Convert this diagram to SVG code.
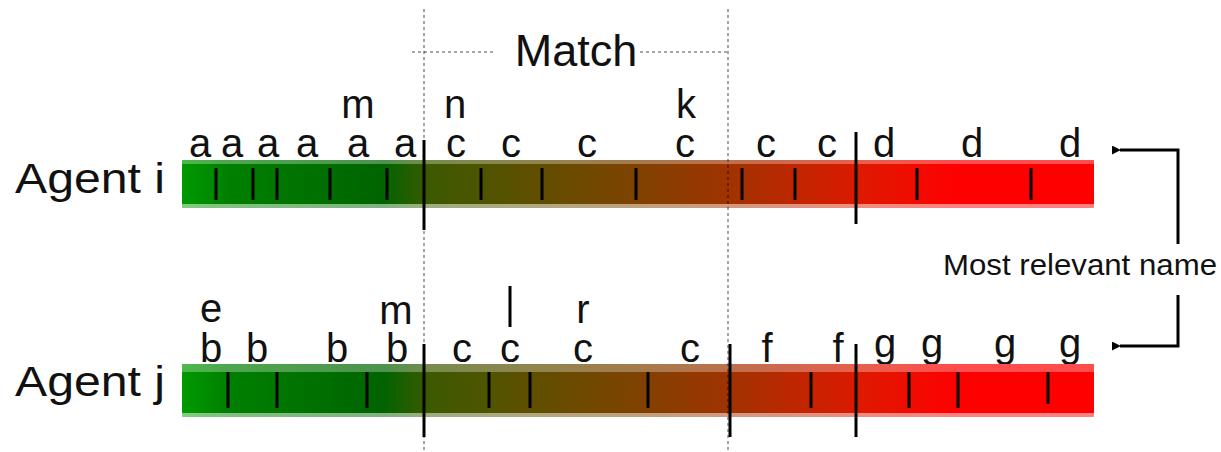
<svg xmlns="http://www.w3.org/2000/svg" width="1221" height="452" viewBox="0 0 1221 452">
  <defs>
    <linearGradient id="heat" gradientUnits="userSpaceOnUse" x1="182" y1="0" x2="1094" y2="0">
      <stop offset="0" stop-color="#009a00"/>
      <stop offset="0.05" stop-color="#008000"/>
      <stop offset="0.22" stop-color="#006400"/>
      <stop offset="0.27" stop-color="#3c5a00"/>
      <stop offset="0.38" stop-color="#5e5000"/>
      <stop offset="0.5" stop-color="#7f4200"/>
      <stop offset="0.6" stop-color="#a03300"/>
      <stop offset="0.75" stop-color="#e01800"/>
      <stop offset="0.85" stop-color="#ff0000"/>
      <stop offset="1" stop-color="#ff0000"/>
    </linearGradient>
    <marker id="arrow" viewBox="0 0 10 10" refX="1" refY="5" markerWidth="3" markerHeight="3" orient="auto-start-reverse">
      <path d="M0,5 L10,0 L10,10 Z" fill="#000"/>
    </marker>
  </defs>
  <style>
    text { font-family: "Liberation Sans", Arial, sans-serif; fill: #111; }
    .lbl { font-size: 40px; text-anchor: middle; }
    .agent { font-size: 43px; }
    .tick { stroke: #000; stroke-width: 3; }
    .sep { stroke: #000; stroke-width: 3; }
    .dot { stroke: #000; stroke-opacity: 0.35; stroke-width: 2; stroke-dasharray: 3 3; fill: none; }
    .hi { fill: #fff; opacity: 0.3; }
    .lo { fill: #fff; opacity: 0.5; }
    .conn { stroke: #000; stroke-width: 3; fill: none; }
  </style>

  <!-- Agent i -->
  <g id="agent-i">
    <text class="agent" x="15" y="193" textLength="150" lengthAdjust="spacingAndGlyphs">Agent i</text>
    <rect x="182" y="160" width="912" height="48" fill="url(#heat)"/>
    <rect class="hi" x="182" y="160" width="912" height="4"/>
    <rect class="lo" x="182" y="204" width="912" height="4"/>
    <g class="tick">
      <line x1="216" y1="168" x2="216" y2="200"/>
      <line x1="253" y1="168" x2="253" y2="200"/>
      <line x1="277" y1="168" x2="277" y2="200"/>
      <line x1="330" y1="168" x2="330" y2="200"/>
      <line x1="387" y1="168" x2="387" y2="200"/>
      <line x1="481" y1="168" x2="481" y2="200"/>
      <line x1="542" y1="168" x2="542" y2="200"/>
      <line x1="636" y1="168" x2="636" y2="200"/>
      <line x1="742" y1="168" x2="742" y2="200"/>
      <line x1="795" y1="168" x2="795" y2="200"/>
      <line x1="917" y1="168" x2="917" y2="200"/>
      <line x1="1031" y1="168" x2="1031" y2="200"/>
    </g>
    <line class="sep" x1="424" y1="140" x2="424" y2="230"/>
    <line class="sep" x1="856" y1="132" x2="856" y2="224"/>
    <g class="lbl-row">
      <text class="lbl" x="200" y="157">a</text>
      <text class="lbl" x="232" y="157">a</text>
      <text class="lbl" x="268" y="157">a</text>
      <text class="lbl" x="307" y="157">a</text>
      <text class="lbl" x="358" y="157">a</text>
      <text class="lbl" x="405" y="157">a</text>
      <text class="lbl" x="456" y="157">c</text>
      <text class="lbl" x="511" y="157">c</text>
      <text class="lbl" x="587" y="157">c</text>
      <text class="lbl" x="685" y="157">c</text>
      <text class="lbl" x="766" y="157">c</text>
      <text class="lbl" x="827" y="157">c</text>
      <text class="lbl" x="884" y="157">d</text>
      <text class="lbl" x="972" y="157">d</text>
      <text class="lbl" x="1070" y="157">d</text>
      <text class="lbl" x="358" y="118">m</text>
      <text class="lbl" x="455" y="118">n</text>
      <text class="lbl" x="686" y="118">k</text>
    </g>
  </g>

  <!-- Agent j -->
  <g id="agent-j">
    <text class="agent" x="15" y="396" textLength="150" lengthAdjust="spacingAndGlyphs">Agent j</text>
    <g class="lbl-row">
      <text class="lbl" x="211" y="362">b</text>
      <text class="lbl" x="257" y="362">b</text>
      <text class="lbl" x="337" y="362">b</text>
      <text class="lbl" x="397" y="362">b</text>
      <text class="lbl" x="462" y="362">c</text>
      <text class="lbl" x="510" y="362">c</text>
      <text class="lbl" x="583" y="362">c</text>
      <text class="lbl" x="690" y="362">c</text>
      <text class="lbl" x="767" y="362">f</text>
      <text class="lbl" x="838" y="362">f</text>
      <text class="lbl" x="885" y="357">g</text>
      <text class="lbl" x="932" y="357">g</text>
      <text class="lbl" x="1005" y="357">g</text>
      <text class="lbl" x="1070" y="357">g</text>
      <text class="lbl" x="211" y="322">e</text>
      <text class="lbl" x="396" y="324">m</text>
      <text class="lbl" x="583" y="323">r</text>
    </g>
    <rect x="182" y="364" width="912" height="53" fill="url(#heat)"/>
    <rect class="hi" x="182" y="364" width="912" height="8"/>
    <rect class="lo" x="182" y="413" width="912" height="4"/>
    <g class="tick">
      <line x1="228" y1="372" x2="228" y2="408"/>
      <line x1="277" y1="372" x2="277" y2="408"/>
      <line x1="367" y1="372" x2="367" y2="408"/>
      <line x1="489" y1="372" x2="489" y2="408"/>
      <line x1="530" y1="372" x2="530" y2="408"/>
      <line x1="648" y1="372" x2="648" y2="408"/>
      <line x1="811" y1="372" x2="811" y2="408"/>
      <line x1="909" y1="372" x2="909" y2="408"/>
      <line x1="958" y1="372" x2="958" y2="408"/>
      <line x1="1048" y1="372" x2="1048" y2="404"/>
      <line x1="510" y1="286" x2="510" y2="327"/>
    </g>
    <line class="sep" x1="424" y1="344" x2="424" y2="437"/>
    <line class="sep" x1="730" y1="344" x2="730" y2="437"/>
    <line class="sep" x1="856" y1="344" x2="856" y2="437"/>
  </g>

  <!-- Match window -->
  <g id="match">
    <line class="dot" x1="424" y1="9" x2="424" y2="452"/>
    <line class="dot" x1="728" y1="9" x2="728" y2="452"/>
    <line class="dot" x1="412" y1="52" x2="496" y2="52"/>
    <line class="dot" x1="640" y1="52" x2="727" y2="52"/>
    <text x="576" y="66" font-size="45" text-anchor="middle">Match</text>
  </g>

  <!-- Most relevant name callout -->
  <g id="relevance">
    <text x="1080" y="275" font-size="30" text-anchor="middle" textLength="274" lengthAdjust="spacingAndGlyphs" fill="#222">Most relevant name</text>
  </g>

  <g id="connectors">
    <polyline class="conn" points="1178,244 1178,150 1120,150" marker-end="url(#arrow)"/>
    <polyline class="conn" points="1178,295 1178,346 1120,346" marker-end="url(#arrow)"/>
  </g>
</svg>
